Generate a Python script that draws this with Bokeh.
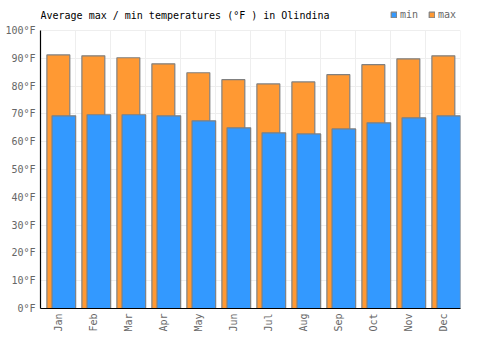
import numpy as np
from bokeh.plotting import figure
from bokeh.models import Range1d, FixedTicker, PrintfTickFormatter, Legend, LegendItem, Label
from bokeh.embed import file_html
from bokeh.resources import INLINE

months = ["Jan", "Feb", "Mar", "Apr", "May", "Jun", "Jul", "Aug", "Sep", "Oct", "Nov", "Dec"]
temp_max = [91.2, 90.9, 90.2, 88.0, 84.8, 82.3, 80.8, 81.5, 84.1, 87.7, 89.8, 90.9]
temp_min = [69.3, 69.7, 69.7, 69.3, 67.5, 65.0, 63.2, 62.8, 64.6, 66.8, 68.6, 69.3]
y_ticks = [0, 10, 20, 30, 40, 50, 60, 70, 80, 90, 100]
title_text = "Average max / min temperatures (°F ) in Olindina"

FONT = "DejaVu Sans Mono"
idx = np.arange(len(months))

FRAME_H = 308          # frame reaches the top of the canvas; header drawn inside
HEADER = 30            # pixels above the 100°F line
y_max = max(y_ticks)
y_top = y_max * FRAME_H / (FRAME_H - HEADER)

p = figure(frame_width=420, frame_height=FRAME_H, output_backend="svg", toolbar_location=None,
           x_range=Range1d(0, len(months)), y_range=Range1d(0, y_top),
           min_border_left=40, min_border_right=40, min_border_top=0, min_border_bottom=42)
p.outline_line_color = None
p.background_fill_color = "white"
p.border_fill_color = "white"

# grid
p.xgrid.visible = False
p.ygrid.ticker = FixedTicker(ticks=y_ticks)
p.ygrid.grid_line_color = "#eeeeee"
p.ygrid.grid_line_width = 1
gx = list(range(len(months) + 1))
p.segment(x0=gx, y0=[0] * len(gx), x1=gx, y1=[y_max] * len(gx),
          line_color="#eeeeee", line_width=1, level="underlay")

r_max = p.vbar(x=idx + 0.51, top=temp_max, bottom=0, width=0.655,
               fill_color="#ff9933", line_color="#808080", line_width=1.2)
r_min = p.vbar(x=idx + 0.667, top=temp_min, bottom=0, width=0.675,
               fill_color="#3399ff", line_color="#808080", line_width=1.2)

# axes
p.yaxis.ticker = FixedTicker(ticks=y_ticks)
p.yaxis.formatter = PrintfTickFormatter(format="%d°F")
p.yaxis.bounds = (0, y_max)
p.xaxis.ticker = FixedTicker(ticks=list(idx + 0.5))
p.xaxis.major_label_overrides = {float(i + 0.5): m for i, m in enumerate(months)}
p.xaxis.major_label_orientation = np.pi / 2
for ax in (p.xaxis, p.yaxis):
    ax.major_tick_out = 0
    ax.major_tick_in = 0
    ax.minor_tick_out = 0
    ax.minor_tick_in = 0
    ax.axis_line_color = "black"
    ax.axis_line_width = 1.2
    ax.major_label_text_font = FONT
    ax.major_label_text_font_size = "10px"
    ax.major_label_text_color = "#666666"
    ax.major_label_standoff = 5

# title (inside the header strip of the frame)
p.add_layout(Label(x=0, y=y_max, y_offset=15, text=title_text,
                   text_font=FONT, text_font_size="10px", text_color="black",
                   text_baseline="middle", text_align="left"))

legend = Legend(items=[LegendItem(label="min", renderers=[r_min]),
                       LegendItem(label="max", renderers=[r_max])],
                location=(350, 288), orientation="horizontal",
                glyph_width=7, glyph_height=7, label_standoff=3, spacing=8,
                padding=0, margin=0, border_line_color=None,
                background_fill_alpha=0,
                label_text_font=FONT, label_text_font_size="10px",
                label_text_color="#666666", label_height=10)
p.add_layout(legend, "center")

open("out.html", "w").write(file_html(p, INLINE))
